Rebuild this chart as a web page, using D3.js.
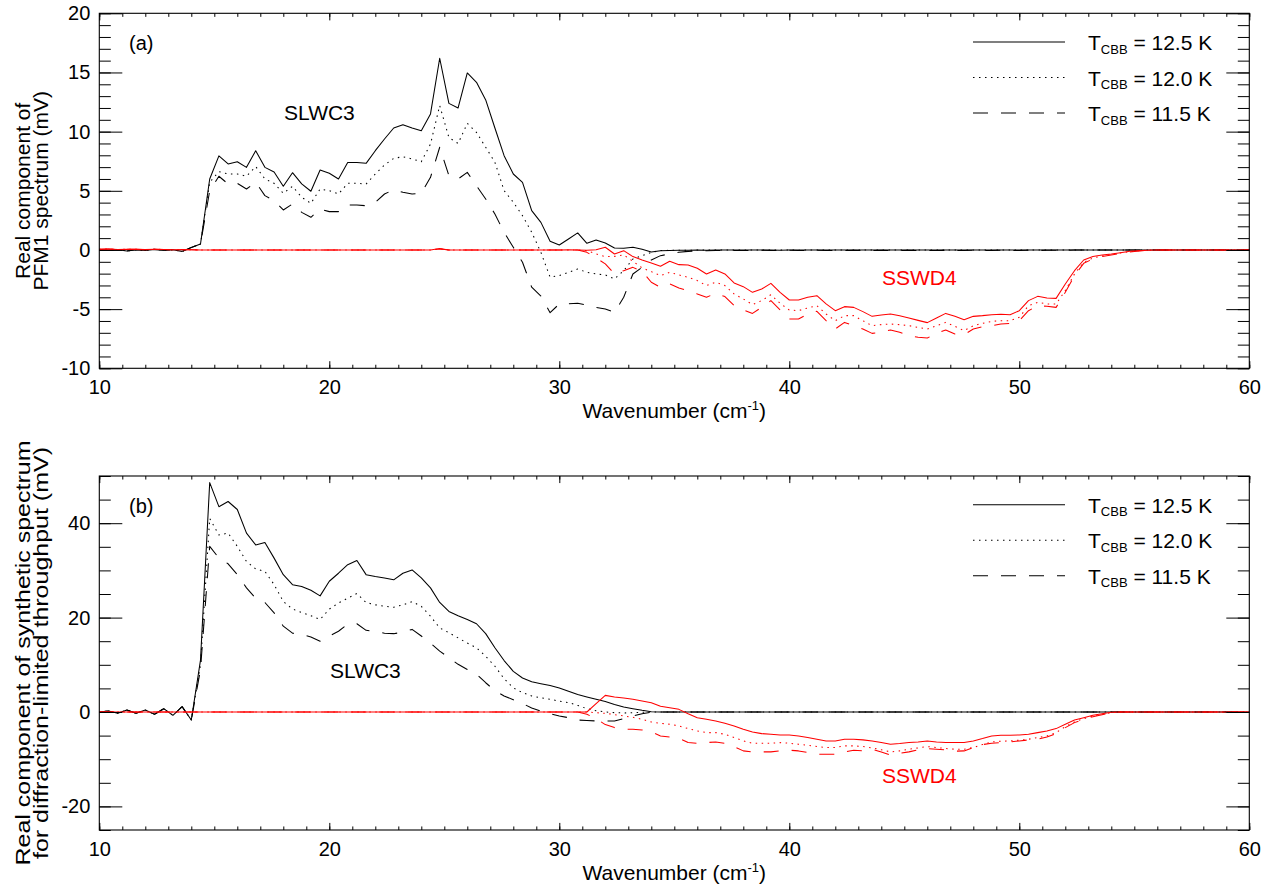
<!DOCTYPE html>
<html><head><meta charset="utf-8">
<script src="https://cdn.jsdelivr.net/npm/d3@7"></script>
<style>
html,body{margin:0;padding:0;background:#fff;}
svg{display:block;}
text{font-family:"Liberation Sans", Arial, Helvetica, sans-serif; fill:#000;}
</style></head><body>
<svg id="chart" width="1270" height="884"></svg>
<script>
// ---------------- DATA ----------------
const wavenumber = [
 10.0,10.4,10.8,11.2,11.6,12.0,12.4,12.8,13.2,13.6,
 14.0,14.4,14.8,15.2,15.6,16.0,16.4,16.8,17.2,17.6,
 18.0,18.4,18.8,19.2,19.6,20.0,20.4,20.8,21.2,21.6,
 22.0,22.4,22.8,23.2,23.6,24.0,24.4,24.8,25.2,25.6,
 26.0,26.4,26.8,27.2,27.6,28.0,28.4,28.8,29.2,29.6,
 30.0,30.4,30.8,31.2,31.6,32.0,32.4,32.8,33.2,33.6,
 34.0,34.4,34.8,35.2,35.6,36.0,36.4,36.8,37.2,37.6,
 38.0,38.4,38.8,39.2,39.6,40.0,40.4,40.8,41.2,41.6,
 42.0,42.4,42.8,43.2,43.6,44.0,44.4,44.8,45.2,45.6,
 46.0,46.4,46.8,47.2,47.6,48.0,48.4,48.8,49.2,49.6,
 50.0,50.4,50.8,51.2,51.6,52.0,52.4,52.8,53.2,53.6,
 54.0,54.4,54.8,55.2,55.6,56.0,56.4,56.8,57.2,57.6,
 58.0,58.4,58.8,59.2,59.6,60.0];

const temperatures = ["12.5", "12.0", "11.5"];

// Panel (a): PFM1 measured spectrum, SLWC3 (black)
const pfm1_SLWC3_125 = [
 0,-0.05,0.03,-0.08,0.02,-0.05,0.05,-0.03,0.02,-0.12,
 0.2,0.5,6.0,7.95,7.27,7.46,6.98,8.39,6.98,6.59,
 5.38,6.53,5.58,4.96,6.76,6.48,6.0,7.4,7.4,7.32,
 8.39,9.38,10.31,10.59,10.31,10.08,11.5,16.2,12.39,12.0,
 14.96,14.17,12.68,10.31,7.97,6.42,5.71,3.32,2.33,0.73,
 0.42,0.93,1.44,0.56,0.85,0.59,0.17,0.14,0.23,0.06,
 -0.17,-0.06,-0.04,-0.02,-0.03,0,-0.02,0,-0.01,0,
 0,-0.01,0,0,-0.02,0,0,-0.01,0,0,
 0,0,-0.01,0,0,0,-0.01,0,0,0,
 0,0,0,-0.01,0,0,0,0,0,0,
 0,0,0,0,0,0,0,0,0,0,
 0,0,0,0,0,0,0,0,0,0,
 0,0,0,0,0,0];
const pfm1_SLWC3_120 = [
 0,-0.05,0.03,-0.08,0.02,-0.05,0.05,-0.03,0.02,-0.12,
 0.2,0.5,5.72,6.62,6.42,6.42,6.23,7.05,6.0,5.63,
 4.79,5.38,4.45,3.94,5.15,5.01,4.73,5.63,5.63,5.57,
 6.42,7.18,7.74,7.88,7.69,7.46,8.95,12.2,9.5,9.0,
 10.7,9.93,8.68,7.41,5.02,4.03,2.9,1.5,-0.2,-2.3,
 -2.17,-1.89,-1.61,-1.89,-2.03,-2.11,-2.45,-1.75,-0.76,-0.48,
 -0.2,-0.05,-0.03,-0.02,-0.02,-0.01,0,-0.01,0,0,
 -0.02,0,0,-0.01,0,0,-0.02,0,0,0,
 0,-0.01,0,0,0,-0.01,0,0,0,0,
 0,0,0,0,0,0,0,0,0,0,
 0,0,0,0,0,0,0,0,0,0,
 0,0,0,0,0,0,0,0,0,0,
 0,0,0,0,0,0];
const pfm1_SLWC3_115 = [
 0,-0.05,0.03,-0.08,0.02,-0.05,0.05,-0.03,0.02,-0.12,
 0.2,0.5,5.01,6.23,5.58,5.63,5.15,5.72,4.59,4.17,
 3.38,3.88,3.18,2.76,3.46,3.24,3.24,3.8,3.8,3.74,
 4.03,4.73,5.09,4.87,4.73,4.79,6.14,8.68,6.28,6.0,
 6.56,5.43,4.31,3.04,1.49,0.23,-1.04,-3.15,-3.9,-5.3,
 -4.56,-4.54,-4.51,-4.65,-4.85,-4.99,-5.27,-4.0,-2.03,-1.47,
 -0.85,-0.48,-0.34,-0.2,-0.12,-0.08,-0.06,-0.05,-0.05,-0.04,
 -0.04,-0.05,-0.03,-0.04,-0.05,-0.03,-0.04,-0.05,-0.03,-0.04,
 -0.04,-0.05,-0.03,-0.04,-0.05,-0.03,-0.04,-0.05,-0.03,-0.04,
 -0.04,-0.05,-0.03,-0.04,-0.05,-0.03,-0.04,-0.05,-0.03,-0.04,
 -0.04,-0.03,-0.04,-0.03,-0.02,-0.02,-0.01,-0.01,0,0,
 0,0,0,0,0,0,0,0,0,0,
 0,0,0,0,0,0];

// Panel (a): PFM1 measured spectrum, SSWD4 (red)
const pfm1_SSWD4_125 = [
 0.05,0.08,0.04,0.06,0.05,0.03,0.06,0.04,0.02,0.03,
 0.02,0,0,0,0,0,0,0,0,0,
 0,0,0,0,0,0,0,0,0,0,
 0,0,0,0,0,0,0,0.12,0,0,
 0,0,0,0,0,0,0,0,0,0,
 0,0.02,0,-0.02,0.01,0.23,-0.34,-0.06,-0.56,-0.85,
 -1.1,-1.38,-0.96,-1.24,-1.27,-1.55,-2.03,-1.69,-2.03,-2.79,
 -3.1,-3.58,-3.3,-2.82,-3.58,-4.23,-4.23,-4.0,-3.86,-4.56,
 -5.13,-4.79,-4.85,-5.21,-5.61,-5.5,-5.41,-5.55,-5.75,-5.95,
 -6.14,-5.75,-5.36,-5.61,-5.89,-5.61,-5.55,-5.47,-5.44,-5.47,
 -5.13,-4.28,-3.92,-4.06,-4.09,-2.88,-1.75,-0.85,-0.56,-0.42,
 -0.34,-0.23,-0.11,-0.06,-0.03,0,0,0,0,0,
 0,0,0,0,0,0];
const pfm1_SSWD4_120 = [
 0.05,0.08,0.04,0.06,0.05,0.03,0.06,0.04,0.02,0.03,
 0.02,0,0,0,0,0,0,0,0,0,
 0,0,0,0,0,0,0,0,0,0,
 0,0,0,0,0,0,0,0.1,0,0,
 0,0,0,0,0,0,0,0,0,0,
 0,0,0,-0.06,-0.34,-0.56,-0.54,-0.42,-0.96,-1.52,
 -1.83,-2.17,-1.89,-2.11,-2.31,-2.59,-3.01,-2.73,-3.01,-3.72,
 -4.14,-4.62,-4.28,-3.78,-4.51,-5.07,-5.13,-4.9,-4.71,-5.41,
 -5.98,-5.55,-5.55,-5.98,-6.4,-6.31,-6.26,-6.31,-6.4,-6.54,
 -6.68,-6.4,-6.12,-6.45,-6.82,-6.4,-6.2,-6.03,-5.98,-5.98,
 -5.69,-4.71,-4.42,-4.56,-4.56,-3.44,-2.03,-1.04,-0.68,-0.51,
 -0.37,-0.25,-0.14,-0.06,-0.02,0,0,0,0,0,
 0,0,0,0,0,0];
const pfm1_SSWD4_115 = [
 0.05,0.08,0.04,0.06,0.05,0.03,0.06,0.04,0.02,0.03,
 0.02,0,0,0,0,0,0,0,0,0,
 0,0,0,0,0,0,0,0,0,0,
 0,0,0,0,0,0,0,0.08,0,0,
 0,0,0,0,0,0,0,0,0,0,
 0,0,0,-0.2,-0.68,-1.18,-2.03,-1.75,-1.47,-1.8,
 -2.73,-3.16,-2.87,-3.21,-3.44,-3.72,-4.0,-3.66,-3.94,-4.7,
 -5.07,-5.36,-4.85,-4.28,-5.07,-5.83,-5.83,-5.41,-5.18,-5.98,
 -6.68,-6.12,-6.4,-6.68,-7.05,-6.96,-6.76,-6.96,-7.24,-7.38,
 -7.44,-7.05,-6.76,-7.1,-7.16,-6.68,-6.48,-6.4,-6.26,-6.2,
 -5.98,-5.13,-4.71,-4.76,-4.85,-3.58,-2.17,-1.13,-0.76,-0.56,
 -0.42,-0.28,-0.17,-0.08,-0.03,0,0,0,0,0,
 0,0,0,0,0,0];

// Panel (b): synthetic spectrum, SLWC3 (black)
const synth_SLWC3_125 = [
 0,0.21,-0.28,0.42,-0.28,0.42,-0.49,0.7,-0.7,1.13,
 -1.69,11,48.6,43.5,44.6,42.9,37.9,35.4,35.9,32.6,
 29.1,26.97,26.6,25.8,24.6,27.7,29.4,31.2,32.1,29.1,
 28.7,28.4,28.0,29.4,30.1,28.4,26.3,23.2,21.3,20.4,
 19.6,18.7,16.6,13.6,10.9,8.6,7.2,6.4,6.0,5.6,
 5.1,4.4,3.7,3.2,2.7,2.2,1.6,1.06,0.7,0.35,
 0.07,0,0,0,0,0,0,0,0,0,
 0,0,0,0,0,0,0,0,0,0,
 0,0,0,0,0,0,0,0,0,0,
 0,0,0,0,0,0,0,0,0,0,
 0,0,0,0,0,0,0,0,0,0,
 0,0,0,0,0,0,0,0,0,0,
 0,0,0,0,0,0];
const synth_SLWC3_120 = [
 0,0.21,-0.28,0.42,-0.28,0.42,-0.49,0.7,-0.7,1.13,
 -1.69,10,41,37.5,37.9,35.1,31.9,30.3,29.8,27.0,
 23.4,21.8,21.1,20.4,19.6,21.8,23.1,24.1,25.1,23.2,
 22.7,22.4,22.2,22.7,23.4,22.4,20.3,17.8,16.8,15.7,
 14.6,13.6,11.8,9.7,7.05,5.1,4.1,3.4,3.0,2.7,
 2.3,2.0,1.4,0.7,0.28,0,-0.14,-0.2,-0.14,-0.05,
 0,0,0,0,0,0,0,0,0,0,
 0,0,0,0,0,0,0,0,0,0,
 0,0,0,0,0,0,0,0,0,0,
 0,0,0,0,0,0,0,0,0,0,
 0,0,0,0,0,0,0,0,0,0,
 0,0,0,0,0,0,0,0,0,0,
 0,0,0,0,0,0];
const synth_SLWC3_115 = [
 0,0.21,-0.28,0.42,-0.28,0.42,-0.49,0.7,-0.7,1.13,
 -1.69,9,35.1,32.6,31.4,29.1,26.3,24.1,23.2,21.0,
 18.2,16.7,16.4,15.9,15.0,16.1,17.1,18.6,18.7,17.3,
 17.1,16.7,16.6,16.9,17.5,16.1,14.6,12.9,11.5,10.1,
 9.0,8.0,6.2,4.5,3.4,2.6,1.8,0.85,0.2,-0.35,
 -0.85,-1.2,-1.7,-1.8,-1.9,-1.9,-1.9,-1.4,-0.85,-0.35,
 -0.07,0,0,0,0,0,0,0,0,0,
 0,0,0,0,0,0,0,0,0,0,
 0,0,0,0,0,0,0,0,0,0,
 0,0,0,0,0,0,0,0,0,0,
 0,0,0,0,0,0,0,0,0,0,
 0,0,0,0,0,0,0,0,0,0,
 0,0,0,0,0,0];

// Panel (b): synthetic spectrum, SSWD4 (red)
const synth_SSWD4_125 = [
 0,0,0,0,0,0,0,0,0,0,
 0,0,0,0,0,0,0,0,0,0,
 0,0,0,0,0,0,0,0,0,0,
 0,0,0,0,0,0,0,0,0,0,
 0,0,0,0,0,0,0,0,0,0,
 0,0,0,0,1.76,3.52,3.17,2.96,2.68,2.32,
 1.97,1.2,0.91,0.56,-0.35,-1.2,-1.55,-1.9,-2.39,-2.96,
 -3.66,-4.22,-4.58,-4.72,-4.86,-4.86,-5.07,-5.42,-5.77,-6.13,
 -6.13,-5.77,-5.77,-5.91,-6.13,-6.48,-6.83,-6.69,-6.48,-6.34,
 -6.13,-6.34,-6.48,-6.48,-6.48,-6.13,-5.63,-5.07,-4.93,-4.93,
 -4.86,-4.72,-4.37,-4.01,-3.52,-2.6,-1.69,-1.2,-0.7,-0.35,
 -0.07,0,0,0,0,0,0,0,0,0,
 0,0,0,0,0,0];
const synth_SSWD4_120 = [
 0,0,0,0,0,0,0,0,0,0,
 0,0,0,0,0,0,0,0,0,0,
 0,0,0,0,0,0,0,0,0,0,
 0,0,0,0,0,0,0,0,0,0,
 0,0,0,0,0,0,0,0,0,0,
 0,0,0,0,-0.14,-0.28,-0.56,-0.84,-1.13,-1.55,
 -2.11,-2.39,-2.6,-2.96,-3.52,-4.01,-4.37,-4.37,-4.72,-5.42,
 -6.13,-6.62,-6.62,-6.62,-6.48,-6.62,-6.83,-7.04,-7.32,-7.53,
 -7.53,-7.18,-7.18,-7.32,-7.6,-8.02,-8.45,-8.24,-7.88,-7.6,
 -7.32,-7.53,-7.74,-7.88,-7.88,-7.53,-6.9,-6.34,-6.2,-6.13,
 -5.98,-5.77,-5.42,-5.07,-4.37,-3.1,-2.11,-1.41,-0.84,-0.49,
 -0.14,0,0,0,0,0,0,0,0,0,
 0,0,0,0,0,0];
const synth_SSWD4_115 = [
 0,0,0,0,0,0,0,0,0,0,
 0,0,0,0,0,0,0,0,0,0,
 0,0,0,0,0,0,0,0,0,0,
 0,0,0,0,0,0,0,0,0,0,
 0,0,0,0,0,0,0,0,0,0,
 0,0,0,-0.49,-1.41,-2.67,-3.31,-3.66,-3.66,-3.8,
 -4.22,-5.07,-5.28,-5.56,-6.48,-6.62,-6.48,-6.34,-6.62,-7.32,
 -8.24,-8.45,-8.45,-8.45,-8.24,-8.1,-8.24,-8.59,-8.94,-8.94,
 -8.94,-8.45,-8.1,-8.24,-7.88,-8.45,-9.15,-8.73,-8.45,-8.02,
 -7.74,-7.88,-8.02,-8.31,-8.24,-7.53,-6.9,-6.62,-6.48,-6.34,
 -6.13,-5.91,-5.77,-5.28,-4.58,-3.31,-2.25,-1.55,-0.99,-0.56,
 -0.21,0,0,0,0,0,0,0,0,0,
 0,0,0,0,0,0];

// Axis ticks / labels
const xTickLabels = [10, 20, 30, 40, 50, 60];
const yTickLabelsA = [-10, -5, 0, 5, 10, 15, 20];
const yTickLabelsB = [-20, 0, 20, 40];

// ---------------- DRAWING ----------------
const svg = d3.select("#chart");
const FONT = '"Liberation Sans", Arial, Helvetica, sans-serif';
const plotLeft = 99.3, plotRight = 1249.3;
const dashFor = {"12.5": null, "12.0": "1.5,4.5", "11.5": "15,13"};

const panels = [
  {
    tag: "(a)", top: 13.3, bottom: 368.3, yDomain: [-10, 20],
    yMajor: yTickLabelsA, yMinor: d3.range(-10, 20.001, 1),
    ylab: ["Real component of", "PFM1 spectrum (mV)"], ylabStretch: 1.0,
    black: [pfm1_SLWC3_125, pfm1_SLWC3_120, pfm1_SLWC3_115],
    red: [pfm1_SSWD4_125, pfm1_SSWD4_120, pfm1_SSWD4_115],
    slwc: {x: 284, y: 120}, sswd: {x: 882, y: 285}
  },
  {
    tag: "(b)", top: 476, bottom: 830, yDomain: [-25, 50],
    yMajor: yTickLabelsB, yMinor: d3.range(-25, 50.001, 5),
    ylab: ["Real component of synthetic spectrum", "for diffraction-limited throughput (mV)"], ylabStretch: 1.19,
    black: [synth_SLWC3_125, synth_SLWC3_120, synth_SLWC3_115],
    red: [synth_SSWD4_125, synth_SSWD4_120, synth_SSWD4_115],
    slwc: {x: 330, y: 678}, sswd: {x: 882, y: 783}
  }
];

const xMinor = d3.range(10, 60.001, 1);

panels.forEach(p => {
  const x = d3.scaleLinear().domain([10, 60]).range([plotLeft, plotRight]);
  const y = d3.scaleLinear().domain(p.yDomain).range([p.bottom, p.top]);
  const h = p.bottom - p.top, w = plotRight - plotLeft;
  const xMaj = h * 0.02, xMin = h * 0.01;
  const yMaj = w * 0.02, yMin = w * 0.01;

  const g = svg.append("g");

  // data lines
  const lineFor = arr => d3.line()
    .x((d, i) => x(wavenumber[i]))
    .y(d => y(d))(arr);
  const drawSet = (arrs, color) => {
    arrs.forEach((arr, k) => {
      g.append("path")
        .attr("d", lineFor(arr))
        .attr("fill", "none")
        .attr("stroke", color)
        .attr("stroke-width", 1.05)
        .attr("stroke-linejoin", "round")
        .attr("stroke-dasharray", dashFor[temperatures[k]]);
    });
  };
  drawSet(p.black, "#000");
  drawSet(p.red, "#ff0000");

  const styleAxis = sel => {
    sel.select(".domain").remove();
    sel.selectAll("line").attr("stroke", "#000").attr("stroke-width", 1);
    sel.selectAll("text").style("font-family", FONT).style("font-size", "20px").attr("fill", "#000");
  };
  // bottom
  g.append("g").attr("transform", `translate(0,${p.bottom})`)
    .call(d3.axisBottom(x).tickValues(xMinor).tickSize(-xMin).tickSizeOuter(0).tickFormat(""))
    .call(styleAxis);
  g.append("g").attr("transform", `translate(0,${p.bottom})`)
    .call(d3.axisBottom(x).tickValues(xTickLabels).tickSize(-xMaj).tickSizeOuter(0).tickPadding(12).tickFormat(d => String(d)))
    .call(styleAxis);
  // top
  g.append("g").attr("transform", `translate(0,${p.top})`)
    .call(d3.axisTop(x).tickValues(xMinor).tickSize(-xMin).tickSizeOuter(0).tickFormat(""))
    .call(styleAxis);
  g.append("g").attr("transform", `translate(0,${p.top})`)
    .call(d3.axisTop(x).tickValues(xTickLabels).tickSize(-xMaj).tickSizeOuter(0).tickFormat(""))
    .call(styleAxis);
  // left
  g.append("g").attr("transform", `translate(${plotLeft},0)`)
    .call(d3.axisLeft(y).tickValues(p.yMinor).tickSize(-yMin).tickSizeOuter(0).tickFormat(""))
    .call(styleAxis);
  g.append("g").attr("transform", `translate(${plotLeft},0)`)
    .call(d3.axisLeft(y).tickValues(p.yMajor).tickSize(-yMaj).tickSizeOuter(0).tickPadding(9).tickFormat(d => String(d)))
    .call(styleAxis);
  // right
  g.append("g").attr("transform", `translate(${plotRight},0)`)
    .call(d3.axisRight(y).tickValues(p.yMinor).tickSize(-yMin).tickSizeOuter(0).tickFormat(""))
    .call(styleAxis);
  g.append("g").attr("transform", `translate(${plotRight},0)`)
    .call(d3.axisRight(y).tickValues(p.yMajor).tickSize(-yMaj).tickSizeOuter(0).tickFormat(""))
    .call(styleAxis);

  // frame
  g.append("rect").attr("x", plotLeft).attr("y", p.top).attr("width", w).attr("height", h)
    .attr("fill", "none").attr("stroke", "#000").attr("stroke-width", 1.1);

  // x label
  const xl = g.append("text").attr("x", (plotLeft + plotRight) / 2).attr("y", p.bottom + 50)
    .attr("text-anchor", "middle").style("font-size", "21px");
  xl.append("tspan").text("Wavenumber (cm");
  xl.append("tspan").attr("dy", -8).style("font-size", "13px").text("-1");
  xl.append("tspan").attr("dy", 8).text(")");

  // y label
  const cy = (p.top + p.bottom) / 2;
  p.ylab.forEach((t, i) => {
    g.append("text")
      .attr("transform", `translate(${30 + i * 18},${cy}) rotate(-90) scale(${p.ylabStretch},1)`)
      .attr("text-anchor", "middle").style("font-size", "21px").text(t);
  });

  // panel tag
  g.append("text").attr("x", 129).attr("y", p.top + 37).style("font-size", "20px").text(p.tag);
  // annotations
  g.append("text").attr("x", p.slwc.x).attr("y", p.slwc.y).style("font-size", "21px").text("SLWC3");
  g.append("text").attr("x", p.sswd.x).attr("y", p.sswd.y).style("font-size", "21px").style("fill", "#ff0000").text("SSWD4");

  // legend
  temperatures.forEach((t, k) => {
    const ly = p.top + 28.7 + k * 35.5;
    g.append("line").attr("x1", 973).attr("x2", 1065).attr("y1", ly).attr("y2", ly)
      .attr("stroke", "#000").attr("stroke-width", 1.05).attr("stroke-dasharray", dashFor[t]);
    const lt = g.append("text").attr("x", 1088).attr("y", ly + 8).style("font-size", "21px");
    lt.append("tspan").text("T");
    lt.append("tspan").attr("dy", 3.5).style("font-size", "13px").text("CBB");
    lt.append("tspan").attr("dy", -3.5).text(` = ${t} K`);
  });
});
</script>
</body></html>
